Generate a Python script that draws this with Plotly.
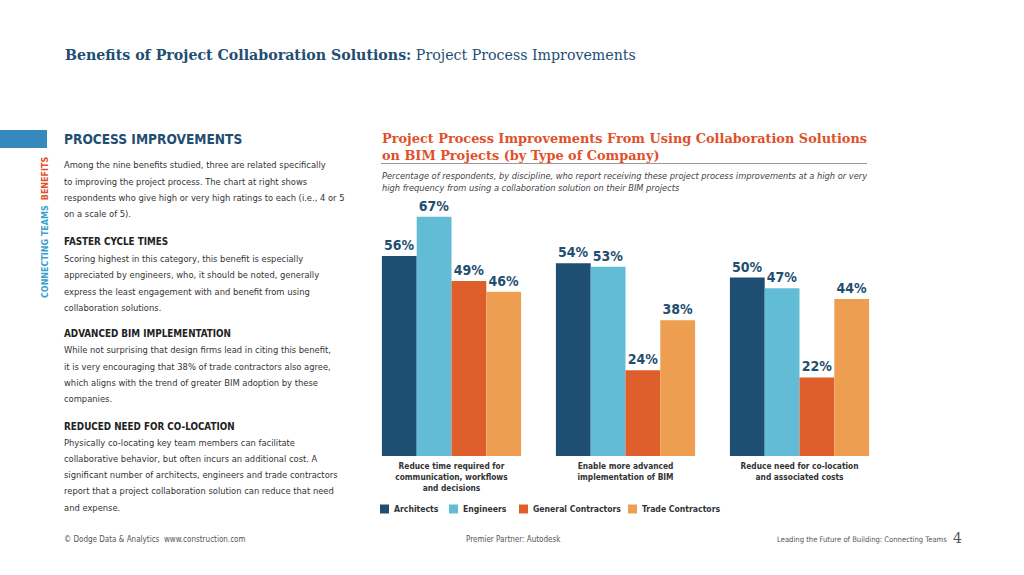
import plotly.graph_objects as go

W, H = 1024, 575

categories = [
    "Reduce time required for<br>communication, workflows<br>and decisions",
    "Enable more advanced<br>implementation of BIM",
    "Reduce need for co-location<br>and associated costs",
]
series_names = ["Architects", "Engineers", "General Contractors", "Trade Contractors"]
architects = [56, 54, 50]
engineers = [67, 53, 47]
general_contractors = [49, 24, 22]
trade_contractors = [46, 38, 44]
series_colors = ["#1f4e73", "#62bcd6", "#de5f2b", "#ee9e50"]
legend_x = [380, 449, 519, 628]

page_title_bold = "Benefits of Project Collaboration Solutions:"
page_title_rest = " Project Process Improvements"
chart_title = ["Project Process Improvements From Using Collaboration Solutions",
               "on BIM Projects (by Type of Company)"]
chart_subtitle = ["Percentage of respondents, by discipline, who report receiving these project process improvements at a high or very",
                  "high frequency from using a collaboration solution on their BIM projects"]

body_blocks = [
    ("PROCESS IMPROVEMENTS", 139, [
        (164, "Among the nine benefits studied, three are related specifically"),
        (181, "to improving the project process. The chart at right shows"),
        (197, "respondents who give high or very high ratings to each (i.e., 4 or 5"),
        (213, "on a scale of 5)."),
    ]),
    ("FASTER CYCLE TIMES", 241, [
        (258, "Scoring highest in this category, this benefit is especially"),
        (274, "appreciated by engineers, who, it should be noted, generally"),
        (291, "express the least engagement with and benefit from using"),
        (307, "collaboration solutions."),
    ]),
    ("ADVANCED BIM IMPLEMENTATION", 333, [
        (349, "While not surprising that design firms lead in citing this benefit,"),
        (366, "it is very encouraging that 38% of trade contractors also agree,"),
        (382, "which aligns with the trend of greater BIM adoption by these"),
        (398, "companies."),
    ]),
    ("REDUCED NEED FOR CO-LOCATION", 426, [
        (442, "Physically co-locating key team members can facilitate"),
        (458, "collaborative behavior, but often incurs an additional cost. A"),
        (474, "significant number of architects, engineers and trade contractors"),
        (490, "report that a project collaboration solution can reduce that need"),
        (507, "and expense."),
    ]),
]

NARROW = "DejaVu Sans Condensed, sans-serif"
SERIF = "DejaVu Serif, serif"
DARK = "#1f4e73"
TEXT = "#333333"


def py(ypx):
    return 1 - ypx / H


def px(xpx):
    return xpx / W


fig = go.Figure()
values = [architects, engineers, general_contractors, trade_contractors]
for name, vals, col in zip(series_names, values, series_colors):
    fig.add_trace(go.Bar(
        name=name, x=categories, y=vals, marker=dict(color=col, line=dict(width=0)),
        text=[f"{v}%" for v in vals], textposition="outside",
        textfont=dict(family=NARROW, size=14, color=DARK, weight="bold"),
        cliponaxis=False, showlegend=False,
    ))

ann = []
shapes = []
# page title
ann.append(dict(x=px(63), y=py(55), xref="paper", yref="paper", xanchor="left", yanchor="middle",
                showarrow=False,
                text=f"<b>{page_title_bold}</b>{page_title_rest}",
                font=dict(family=SERIF, size=14.2, color=DARK)))
# vertical side text
ann.append(dict(x=px(45), y=py(228), xref="paper", yref="paper", xanchor="center", yanchor="middle",
                showarrow=False, textangle=-90,
                text="<span style='color:#3a9fcf'><b>CONNECTING TEAMS</b></span>  <span style='color:#e0502a'><b>BENEFITS</b></span>",
                font=dict(family="DejaVu Sans, sans-serif", size=8)))
# left text
for head, hy, lines in body_blocks:
    big = head == "PROCESS IMPROVEMENTS"
    ann.append(dict(x=px(62), y=py(hy), xref="paper", yref="paper", xanchor="left", yanchor="middle",
                    showarrow=False, text=f"<b>{head}</b>",
                    font=dict(family=NARROW, size=13.6 if big else 9.8, color=DARK if big else "#222222")))
    for ly, t in lines:
        ann.append(dict(x=px(62), y=py(ly), xref="paper", yref="paper", xanchor="left", yanchor="middle",
                        showarrow=False, text=t, font=dict(family=NARROW, size=9.3, color=TEXT)))
# chart title
for i, t in enumerate(chart_title):
    ann.append(dict(x=px(380), y=py(139 + 16 * i), xref="paper", yref="paper", xanchor="left", yanchor="middle",
                    showarrow=False, text=f"<b>{t}</b>",
                    font=dict(family=SERIF, size=12.9, color="#e0502a")))
for i, t in enumerate(chart_subtitle):
    ann.append(dict(x=px(380), y=py(175 + 13 * i), xref="paper", yref="paper", xanchor="left", yanchor="middle",
                    showarrow=False, text=f"<i>{t}</i>",
                    font=dict(family=NARROW, size=9.2, color="#444444")))
# legend (manual keys)
for name, col, lx in zip(series_names, series_colors, legend_x):
    shapes.append(dict(type="rect", xref="paper", yref="paper", x0=px(lx), x1=px(lx + 9),
                       y0=py(513.5), y1=py(504.5), fillcolor=col, line=dict(width=0)))
    ann.append(dict(x=px(lx + 12), y=py(509), xref="paper", yref="paper", xanchor="left", yanchor="middle",
                    showarrow=False, text=f"<b>{name}</b>",
                    font=dict(family=NARROW, size=8.6, color=TEXT)))
# footer
ann.append(dict(x=px(62), y=py(539), xref="paper", yref="paper", xanchor="left", yanchor="middle",
                showarrow=False, text="© Dodge Data &amp; Analytics  www.construction.com",
                font=dict(family=NARROW, size=8, color="#555555")))
ann.append(dict(x=px(513), y=py(539), xref="paper", yref="paper", xanchor="center", yanchor="middle",
                showarrow=False, text="Premier Partner: Autodesk",
                font=dict(family=NARROW, size=8, color="#555555")))
ann.append(dict(x=px(949), y=py(539), xref="paper", yref="paper", xanchor="right", yanchor="middle",
                showarrow=False, text="Leading the Future of Building: Connecting Teams",
                font=dict(family=NARROW, size=7.6, color="#555555")))
ann.append(dict(x=px(951), y=py(538), xref="paper", yref="paper", xanchor="left", yanchor="middle",
                showarrow=False, text="4",
                font=dict(family=SERIF, size=14, color="#555555")))

shapes += [
    dict(type="rect", xref="paper", yref="paper", x0=0, x1=px(47), y0=py(148), y1=py(130),
         fillcolor="#3589bd", line=dict(width=0), layer="below"),
    dict(type="line", xref="paper", yref="paper", x0=px(381), x1=px(867), y0=py(163.5), y1=py(163.5),
         line=dict(color="#9a9a9a", width=1)),
]

fig.update_layout(
    width=W, height=H, autosize=False,
    margin=dict(l=0, r=0, t=0, b=0),
    paper_bgcolor="white", plot_bgcolor="white",
    barmode="group", bargap=0.2, bargroupgap=0,
    showlegend=False,
    xaxis=dict(domain=[px(364.5), px(886.5)], range=[-0.5, 2.5], showgrid=False, zeroline=False,
               showline=False, ticks="", ticklabelstandoff=4,
               tickfont=dict(family=NARROW, size=8.3, color=TEXT, weight="bold"),
               fixedrange=True),
    yaxis=dict(domain=[py(456), py(456 - 75 * 3.57)], range=[0, 75], visible=False, fixedrange=True),
    annotations=ann, shapes=shapes,
)

fig.write_html("out.html", config={"displayModeBar": False},
               post_script="document.body.style.margin='0';")
